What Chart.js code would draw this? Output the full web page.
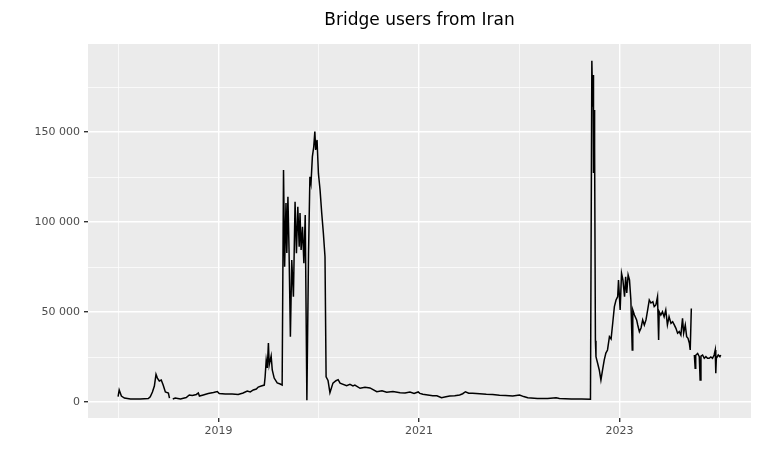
<!DOCTYPE html>
<html lang="en">
<head>
  <meta charset="UTF-8" />
  <title>Bridge users from Iran</title>
  <script src="https://cdn.jsdelivr.net/npm/chart.js"></script>
  <style>
    body { margin: 0; background: #fff; }
    #wrap { width: 774px; height: 450px; }
  </style>
</head>
<body>
  <div id="wrap"><canvas id="usersChart" width="774" height="450"></canvas></div>

  <script>
    // daily bridge users (null = no data)
    const dates = [
      '2018-01-01','2018-01-05','2018-01-13','2018-01-24','2018-02-15','2018-03-23','2018-04-21','2018-04-28',
      '2018-05-06','2018-05-13','2018-05-19','2018-05-24','2018-05-31','2018-06-07','2018-06-14','2018-06-22',
      '2018-07-03','2018-07-07','2018-07-12','2018-07-19','2018-07-28','2018-08-16','2018-09-06','2018-09-17',
      '2018-09-28','2018-10-13','2018-10-20','2018-10-24','2018-11-07','2018-11-25','2018-12-14','2018-12-28',
      '2019-01-04','2019-01-26','2019-02-20','2019-03-14','2019-04-01','2019-04-16','2019-04-27','2019-05-08',
      '2019-05-19','2019-05-26','2019-06-06','2019-06-17','2019-06-20','2019-06-24','2019-06-28','2019-07-02',
      '2019-07-05','2019-07-12','2019-07-16','2019-07-23','2019-08-03','2019-08-14','2019-08-21','2019-08-26',
      '2019-08-30','2019-09-04','2019-09-07','2019-09-11','2019-09-15','2019-09-20','2019-09-25','2019-10-01',
      '2019-10-07','2019-10-12','2019-10-17','2019-10-22','2019-10-25','2019-10-29','2019-11-03','2019-11-08',
      '2019-11-13','2019-11-19','2019-11-25','2019-11-30','2019-12-04','2019-12-09','2019-12-14','2019-12-18',
      '2019-12-21','2019-12-26','2019-12-31','2020-01-06','2020-01-12','2020-01-18','2020-01-24','2020-01-28',
      '2020-02-04','2020-02-11','2020-02-22','2020-03-04','2020-03-12','2020-03-19','2020-04-12','2020-04-24',
      '2020-05-05','2020-05-12','2020-05-31','2020-06-18','2020-07-06','2020-07-31','2020-08-19','2020-09-05',
      '2020-09-28','2020-10-24','2020-11-11','2020-11-29','2020-12-14','2020-12-29','2021-01-04','2021-01-15',
      '2021-02-02','2021-02-20','2021-03-07','2021-03-24','2021-04-09','2021-04-23','2021-05-11','2021-05-29',
      '2021-06-09','2021-06-19','2021-07-01','2021-07-15','2021-08-10','2021-09-03','2021-09-26','2021-10-21',
      '2021-11-12','2021-12-08','2022-01-02','2022-01-17','2022-02-01','2022-03-08','2022-04-14','2022-05-15',
      '2022-05-27','2022-07-09','2022-08-16','2022-09-17','2022-09-22','2022-09-25','2022-09-27','2022-09-28',
      '2022-09-30','2022-10-02','2022-10-05','2022-10-07','2022-10-13','2022-10-19','2022-10-25','2022-10-31',
      '2022-11-06','2022-11-12','2022-11-18','2022-11-25','2022-12-01','2022-12-07','2022-12-13','2022-12-19',
      '2022-12-25','2022-12-28','2023-01-03','2023-01-08','2023-01-13','2023-01-19','2023-01-23','2023-01-27',
      '2023-02-01','2023-02-06','2023-02-11','2023-02-16','2023-02-18','2023-02-24','2023-03-04','2023-03-08',
      '2023-03-14','2023-03-20','2023-03-26','2023-04-01','2023-04-07','2023-04-13','2023-04-19','2023-04-25',
      '2023-05-02','2023-05-07','2023-05-13','2023-05-19','2023-05-23','2023-05-25','2023-05-31','2023-06-06',
      '2023-06-12','2023-06-18','2023-06-24','2023-06-30','2023-07-07','2023-07-13','2023-07-19','2023-07-25',
      '2023-07-31','2023-08-06','2023-08-12','2023-08-18','2023-08-22','2023-08-28','2023-09-02','2023-09-07',
      '2023-09-12','2023-09-15','2023-09-19','2023-09-25','2023-09-30','2023-10-03','2023-10-05','2023-10-12',
      '2023-10-18','2023-10-21','2023-10-24','2023-10-30','2023-11-05','2023-11-11','2023-11-17','2023-11-23',
      '2023-11-29','2023-12-05','2023-12-11','2023-12-15','2023-12-17','2023-12-19','2023-12-26','2024-01-01',
      '2024-01-04'
    ];
    const users = [
      3000, 6700, 3300, 2200, 1700, 1700, 1900, 2900,
      5500, 8900, 15400, 13300, 11700, 12200, 9400, 5600,
      5000, 2200, null, 1700, 2200, 1700, 2500, 3900,
      3600, 4200, 5000, 3300, 3900, 4700, 5300, 5800,
      4700, 4400, 4400, 4200, 5000, 6100, 5600, 6700,
      7200, 8300, 8900, 9400, 13900, 23300, 18900, 32800,
      20600, 25600, 17800, 13300, 10600, 10000, 9400, 128900,
      75200, 110600, 82800, 114000, 85000, 36300, 78900, 58500,
      111300, 82700, 108500, 86300, 105000, 84500, 97400, 77100,
      103900, 1000, 82700, 125200, 121500, 136300, 141800, 150200,
      140000, 145600, 127000, 117800, 105000, 93900, 80700, 14000,
      12000, 5200, 10500, 11800, 12400, 10500, 9100, 9800,
      8900, 9400, 7600, 8200, 7800, 5700, 6200, 5400,
      5800, 5200, 5000, 5600, 4800, 5600, 4800, 4300,
      3900, 3500, 3500, 2400, 2900, 3300, 3500, 3900,
      4600, 5700, 4900, 4800, 4600, 4300, 4200, 3700,
      3600, 3300, 3900, 3000, 2400, 2000, 2000, 2400,
      2000, 1700, 1600, 1500, 189600, 164000, 181700, 127200,
      162200, 141800, 34000, 25200, 21500, 17800, 12200, 17800,
      23300, 27200, 28900, 36300, 35000, 43900, 53000, 56700,
      58500, 67800, 51100, 71500, 67800, 58500, 69600, 60600,
      70600, 67800, 56700, 28900, 51100, 48300, 45600, 42800,
      39100, 41100, 45600, 42800, 45600, 51100, 56700, 55000,
      55700, 53000, 53900, 58500, 34400, 50200, 48300, 50200,
      47400, 51100, 42800, 47400, 43700, 44600, 42800, 40900,
      38200, 39100, 37200, 46500, 38200, 42800, 36300, 35400,
      32600, 28900, 52000, null, 26100, 18700, 26000, 27000,
      25200, 12200, 25500, 26100, 24300, 25200, 24300, 24300,
      25000, 24300, 26100, 28900, 16000, 24300, 26100, 25200,
      26100
    ];
    const yearTicks = [2018, 2019, 2020, 2021, 2022, 2023, 2024];
    const userTicks = [0, 25000, 50000, 75000, 100000, 125000, 150000, 175000];

    // date string -> fractional year, so a plain linear axis can be used
    function toYear(s) {
      const [y, m, d] = s.split('-').map(Number);
      const start = Date.UTC(y, 0, 1);
      const len = Date.UTC(y + 1, 0, 1) - start;
      return y + (Date.UTC(y, m - 1, d) - start) / len;
    }

    const points = dates.map((d, i) => ({ x: toYear(d), y: users[i] }));

    function fmtThousands(v) {
      return String(v).replace(/\B(?=(\d{3})+(?!\d))/g, ' ');
    }

    const panelBg = {
      id: 'panelBg',
      beforeDraw(chart) {
        const { ctx, chartArea: a } = chart;
        ctx.save();
        ctx.fillStyle = '#EBEBEB';
        ctx.fillRect(a.left, a.top, a.right - a.left, a.bottom - a.top);
        ctx.restore();
      }
    };

    const plotTitle = {
      id: 'plotTitle',
      afterDraw(chart) {
        const { ctx, chartArea: a } = chart;
        ctx.save();
        ctx.fillStyle = '#000';
        ctx.font = '17px "DejaVu Sans"';
        ctx.textAlign = 'center';
        ctx.textBaseline = 'middle';
        ctx.fillText('Bridge users from Iran', (a.left + a.right) / 2, 21);
        ctx.restore();
      }
    };

    const tickFont = { family: 'DejaVu Sans', size: 11 };

    new Chart(document.getElementById('usersChart'), {
      type: 'line',
      data: {
        datasets: [{
          label: 'users',
          data: points,
          borderColor: '#000',
          borderWidth: 1.5,
          pointRadius: 0,
          tension: 0,
          spanGaps: false
        }]
      },
      options: {
        responsive: false,
        animation: false,
        devicePixelRatio: 1,
        layout: { padding: { top: 44, right: 23, left: 0, bottom: 0 } },
        plugins: { legend: { display: false }, tooltip: { enabled: false }, title: { display: false } },
        scales: {
          x: {
            type: 'linear',
            min: 2017.70,
            max: 2024.31,
            afterBuildTicks: s => { s.ticks = yearTicks.map(v => ({ value: v })); },
            afterFit: s => { s.height = 32; },
            border: { display: false },
            grid: {
              color: '#FFFFFF',
              lineWidth: c => (c.tick && c.tick.value % 2 === 1 ? 1.4 : 0.7),
              tickColor: c => (c.tick && c.tick.value % 2 === 1 ? '#333333' : 'rgba(0,0,0,0)'),
              tickLength: 4
            },
            ticks: {
              autoSkip: false,
              maxRotation: 0,
              padding: 3,
              color: '#4D4D4D',
              font: tickFont,
              callback: v => (v % 2 === 1 ? String(v) : '')
            }
          },
          y: {
            min: -8890,
            max: 198900,
            afterBuildTicks: s => { s.ticks = userTicks.map(v => ({ value: v })); },
            afterFit: s => { s.width = 88; },
            border: { display: false },
            grid: {
              color: '#FFFFFF',
              lineWidth: c => (c.tick && c.tick.value % 50000 === 0 ? 1.4 : 0.7),
              tickColor: c => (c.tick && c.tick.value % 50000 === 0 ? '#333333' : 'rgba(0,0,0,0)'),
              tickLength: 4
            },
            ticks: {
              autoSkip: false,
              padding: 4,
              color: '#4D4D4D',
              font: tickFont,
              callback: v => (v % 50000 === 0 ? fmtThousands(v) : '')
            }
          }
        }
      },
      plugins: [panelBg, plotTitle]
    });
  </script>
</body>
</html>
